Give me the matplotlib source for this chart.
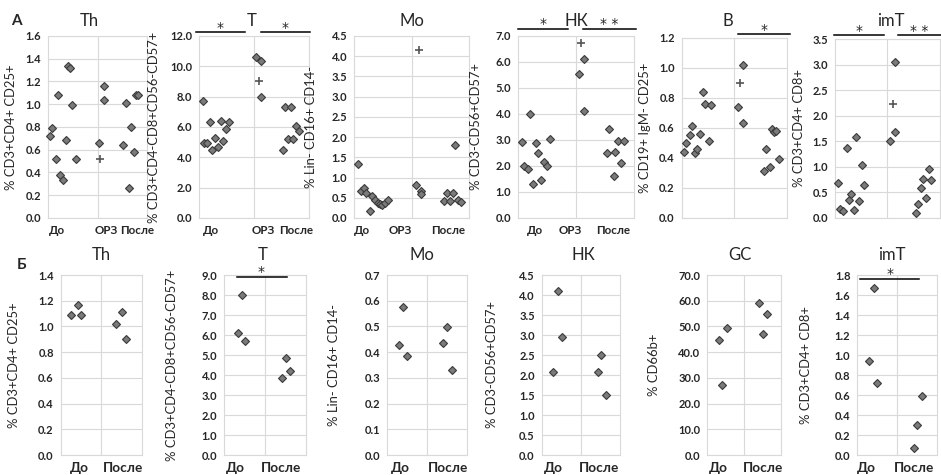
import matplotlib
matplotlib.use('Agg')
import matplotlib.pyplot as plt
import matplotlib.transforms as mtransforms
import numpy as np

plt.rcParams['font.family'] = ['Lato', 'Noto Sans', 'DejaVu Sans']

W, H = 941, 475

# ---------------- DATA: row A (До / ОРЗ / После) ----------------
groups_A = ['До', 'ОРЗ', 'После']
groups_B = ['До', 'После']

thA_do_x = [0.05, 0.09, 0.16, 0.20, 0.25, 0.30, 0.36, 0.40, 0.44, 0.49, 0.56]
thA_do_y = [0.72, 0.79, 0.52, 1.08, 0.38, 0.33, 0.69, 1.34, 1.32, 0.99, 0.52]
thA_orz_x = [1.03, 1.14, 1.14]
thA_orz_y = [0.66, 1.16, 1.04]
thA_mean = [1.06, 0.52]
thA_po_x = [1.52, 1.58, 1.63, 1.68, 1.73, 1.77, 1.82]
thA_po_y = [0.64, 1.01, 0.26, 0.80, 0.58, 1.08, 1.08]

tA_do_x = [0.06, 0.09, 0.145, 0.19, 0.24, 0.29, 0.35, 0.39, 0.44, 0.49, 0.55]
tA_do_y = [7.71, 4.96, 4.96, 6.30, 4.47, 5.25, 4.65, 6.41, 5.09, 5.85, 6.30]
tA_orz_x = [1.03, 1.13, 1.12]
tA_orz_y = [10.61, 10.32, 7.98]
tA_mean = [1.09, 9.05]
tA_po_x = [1.52, 1.56, 1.61, 1.67, 1.71, 1.76, 1.81]
tA_po_y = [4.47, 7.31, 5.18, 7.31, 5.18, 6.08, 5.74]

moA_do_x = [0.07, 0.12, 0.17, 0.21, 0.27, 0.31, 0.36, 0.41, 0.45, 0.49, 0.53, 0.58]
moA_do_y = [1.33, 0.67, 0.74, 0.63, 0.18, 0.55, 0.45, 0.38, 0.35, 0.33, 0.36, 0.45]
moA_orz_x = [1.08, 1.16, 1.17]
moA_orz_y = [0.82, 0.67, 0.59]
moA_mean = [1.12, 4.15]
moA_po_x = [1.56, 1.61, 1.66, 1.72, 1.76, 1.81, 1.86]
moA_po_y = [0.41, 0.62, 0.41, 0.62, 1.80, 0.45, 0.39]

nkA_do_x = [0.06, 0.10, 0.16, 0.20, 0.25, 0.30, 0.35, 0.40, 0.45, 0.50, 0.55]
nkA_do_y = [2.92, 1.99, 1.89, 3.99, 1.31, 2.90, 2.51, 1.48, 2.17, 1.99, 3.05]
nkA_orz_x = [1.05, 1.14, 1.14]
nkA_orz_y = [5.53, 6.10, 4.12]
nkA_mean = [1.09, 6.73]
nkA_po_x = [1.54, 1.58, 1.65, 1.68, 1.73, 1.78, 1.83]
nkA_po_y = [2.49, 3.44, 1.60, 2.54, 2.96, 2.10, 2.96]

bA_do_x = [0.05, 0.09, 0.15, 0.20, 0.25, 0.30, 0.35, 0.40, 0.45, 0.51, 0.56]
bA_do_y = [0.44, 0.50, 0.55, 0.61, 0.43, 0.46, 0.56, 0.84, 0.76, 0.51, 0.75]
bA_orz_x = [1.06, 1.16, 1.16]
bA_orz_y = [0.74, 1.02, 0.63]
bA_mean = [1.11, 0.90]
bA_po_x = [1.56, 1.61, 1.68, 1.71, 1.75, 1.80, 1.85]
bA_po_y = [0.31, 0.46, 0.34, 0.59, 0.57, 0.58, 0.39]

imA_do_x = [0.06, 0.10, 0.16, 0.22, 0.26, 0.31, 0.36, 0.41, 0.46, 0.52, 0.56]
imA_do_y = [0.68, 0.18, 0.14, 1.36, 0.36, 0.47, 0.16, 1.59, 0.33, 1.03, 0.64]
imA_orz_x = [1.05, 1.15, 1.15]
imA_orz_y = [1.51, 3.06, 1.68]
imA_mean = [1.10, 2.23]
imA_po_x = [1.55, 1.58, 1.64, 1.69, 1.74, 1.79, 1.84]
imA_po_y = [0.10, 0.28, 0.59, 0.77, 0.40, 0.96, 0.74]

# ---------------- DATA: row Б (До / После) ----------------
thB_do_x = [0.25, 0.42, 0.50]
thB_do_y = [1.09, 1.17, 1.09]
thB_po_x = [1.37, 1.51, 1.60]
thB_po_y = [1.02, 1.11, 0.90]

tB_do_x = [0.34, 0.44, 0.52]
tB_do_y = [6.12, 8.00, 5.72]
tB_po_x = [1.41, 1.52, 1.61]
tB_po_y = [3.83, 4.83, 4.22]

moB_do_x = [0.28, 0.40, 0.50]
moB_do_y = [0.428, 0.574, 0.385]
moB_po_x = [1.40, 1.50, 1.61]
moB_po_y = [0.437, 0.499, 0.330]

nkB_do_x = [0.28, 0.41, 0.51]
nkB_do_y = [2.07, 4.11, 2.94]
nkB_po_x = [1.42, 1.51, 1.63]
nkB_po_y = [2.07, 2.50, 1.50]

gcB_do_x = [0.31, 0.41, 0.52]
gcB_do_y = [44.7, 27.2, 49.5]
gcB_po_x = [1.41, 1.51, 1.60]
gcB_po_y = [59.2, 46.9, 54.8]

imB_do_x = [0.29, 0.41, 0.50]
imB_do_y = [0.94, 1.67, 0.72]
imB_po_x = [1.42, 1.50, 1.61]
imB_po_y = [0.07, 0.30, 0.59]

# titles, axis labels, ticks
titles_A = ['Th', 'T', 'Mo', 'НК', 'B', 'imT']
titles_B = ['Th', 'T', 'Mo', 'НК', 'GC', 'imT']
ylabels_A = ['% CD3+CD4+ CD25+', '% CD3+CD4-CD8+CD56-CD57+', '% Lin- CD16+ CD14-',
             '% CD3-CD56+CD57+', '% CD19+ IgM- CD25+', '% CD3+CD4+ CD8+']
ylabels_B = ['% CD3+CD4+ CD25+', '% CD3+CD4-CD8+CD56-CD57+', '% Lin- CD16+ CD14-',
             '% CD3-CD56+CD57+', '% CD66b+', '% CD3+CD4+ CD8+']
ymax_A = [1.6, 12.0, 4.5, 7.0, 1.2, 3.5]
ystep_A = [0.2, 2.0, 0.5, 1.0, 0.2, 0.5]
ymax_B = [1.4, 9.0, 0.7, 4.5, 70.0, 1.8]
ystep_B = [0.2, 1.0, 0.1, 0.5, 10.0, 0.2]

# significance bars: (x0, x1, label) in data-x units
sig_A = [[], [(-0.06, 0.83, '*'), (1.12, 2.02, '*')], [],
         [(0.0, 0.86, '*'), (1.12, 2.04, '* *')], [(1.07, 2.06, '*')],
         [(-0.02, 0.94, '*'), (1.2, 2.03, '* *')]]
sig_B = [[], [(0.30, 1.53, '*')], [], [], [], [(0.07, 1.55, '*')]]

# ---------------- LAYOUT (pixels) ----------------
geomA = [(48, 147, 36, 218), (199.3, 309, 36, 218), (354.3, 469, 36, 218),
         (518.3, 633.7, 36, 218), (681.7, 787, 38, 218), (835, 939.7, 39, 218)]
geomB = [(60.7, 141.7, 275, 455), (224.3, 305.7, 275, 455), (387.3, 467.3, 275, 455),
         (541.7, 620.3, 275, 455), (707.3, 781.3, 275, 455), (857.3, 937.3, 275, 455)]
ylab_px_A = [17, 160, 317, 482, 651, 805]
ylab_px_B = [20, 177.7, 340, 498, 660, 811.7]
title_px_A = [89.3, 251.7, 411.7, 576.7, 728, 891]
title_px_B = [101.7, 262.3, 421.7, 583.3, 740, 892.3]
title_y_A = 20.7
title_y_B = 255
xlab_pos_A = [[0.18, 1.17, 1.80], [0.22, 1.16, 1.76], [0.13, 0.80, 1.64],
              [0.29, 0.90, 1.64], None, None]
xlab_pos_B = [[0.45, 1.55], [0.27, 1.39], [0.32, 1.51], [0.30, 1.47], [0.31, 1.50], [0.23, 1.42]]
xlab_size_A = 8.4
xlab_size_B = 9.8
sig_y_A = [None, 1.02, None, 1.04, 1.02, 1.02]
sig_y_B = [None, 0.99, None, None, None, 0.98]

series_A = [
    [(thA_do_x, thA_do_y), (thA_orz_x, thA_orz_y), (thA_po_x, thA_po_y), thA_mean],
    [(tA_do_x, tA_do_y), (tA_orz_x, tA_orz_y), (tA_po_x, tA_po_y), tA_mean],
    [(moA_do_x, moA_do_y), (moA_orz_x, moA_orz_y), (moA_po_x, moA_po_y), moA_mean],
    [(nkA_do_x, nkA_do_y), (nkA_orz_x, nkA_orz_y), (nkA_po_x, nkA_po_y), nkA_mean],
    [(bA_do_x, bA_do_y), (bA_orz_x, bA_orz_y), (bA_po_x, bA_po_y), bA_mean],
    [(imA_do_x, imA_do_y), (imA_orz_x, imA_orz_y), (imA_po_x, imA_po_y), imA_mean],
]
series_B = [
    [(thB_do_x, thB_do_y), (thB_po_x, thB_po_y), None],
    [(tB_do_x, tB_do_y), (tB_po_x, tB_po_y), None],
    [(moB_do_x, moB_do_y), (moB_po_x, moB_po_y), None],
    [(nkB_do_x, nkB_do_y), (nkB_po_x, nkB_po_y), None],
    [(gcB_do_x, gcB_do_y), (gcB_po_x, gcB_po_y), None],
    [(imB_do_x, imB_do_y), (imB_po_x, imB_po_y), None],
]

GRID = '#d9d9d9'
FACE = '#7a7a7a'
EDGE = '#3a3a3a'
TXT = '#262626'

fig = plt.figure(figsize=(W / 100, H / 100), dpi=100)


def draw_panel(geom, ymax, ystep, ylabel, ylab_px, title, title_px, title_y, series,
               xlab_pos, xlabels, xlab_size, sigs, sig_y):
    l, r, t, b = geom
    ax = fig.add_axes([l / W, 1 - b / H, (r - l) / W, (b - t) / H])
    ax.set_xlim(0, 2)
    ax.set_ylim(0, ymax)
    yt = np.arange(0, ymax + ystep / 2, ystep)
    ax.set_yticks(yt)
    ax.set_yticklabels([f'{v:.1f}' for v in yt], fontsize=8, fontweight='bold',
                       color=TXT)
    ax.set_xticks([1])
    ax.set_xticklabels([])
    ax.tick_params(length=0, pad=5)
    ax.grid(True, color=GRID, lw=0.8)
    ax.set_axisbelow(True)
    for s in ax.spines.values():
        s.set_color(GRID)
        s.set_linewidth(0.8)
    pts = series[:-1]
    for gx, gy in pts:
        ax.plot(gx, gy, ls='none', marker='D', ms=4.5, mfc=FACE, mec=EDGE,
                mew=0.8, zorder=3, clip_on=False)
    if series[-1] is not None:
        mx, my = series[-1]
        ax.plot([mx], [my], ls='none', marker='+', ms=5.5, mew=1.2,
                color='#555555', zorder=3)
    ax.set_ylabel(ylabel, fontsize=9.4, color=TXT)
    ax.yaxis.set_label_coords((ylab_px - l) / (r - l), 0.5)
    fig.text(title_px / W, 1 - title_y / H, title, fontsize=12, ha='center',
             va='center', color=TXT)
    if xlab_pos is not None:
        tr = mtransforms.blended_transform_factory(ax.transData, ax.transAxes)
        for xp, lab in zip(xlab_pos, xlabels):
            ax.text(xp, -12.5 / (b - t), lab, transform=tr, ha='center', va='center',
                    fontsize=xlab_size, fontweight='bold', color=TXT)
    if sigs:
        tr = mtransforms.blended_transform_factory(ax.transData, ax.transAxes)
        for x0, x1, lab in sigs:
            ax.plot([x0, x1], [sig_y, sig_y], transform=tr, color='black', lw=1.1,
                    clip_on=False, zorder=4)
            ax.annotate(lab, xy=((x0 + x1) / 2, sig_y), xycoords=tr,
                        xytext=(0, 0.3), textcoords='offset points', ha='center',
                        va='baseline', fontsize=10, color=TXT,
                        family=['DejaVu Sans'])
    return ax


for i in range(6):
    draw_panel(geomA[i], ymax_A[i], ystep_A[i], ylabels_A[i], ylab_px_A[i],
               titles_A[i], title_px_A[i], title_y_A, series_A[i], xlab_pos_A[i],
               groups_A, xlab_size_A, sig_A[i], sig_y_A[i])
    draw_panel(geomB[i], ymax_B[i], ystep_B[i], ylabels_B[i], ylab_px_B[i],
               titles_B[i], title_px_B[i], title_y_B, series_B[i], xlab_pos_B[i],
               groups_B, xlab_size_B, sig_B[i], sig_y_B[i])

fig.text(16 / W, 1 - 21 / H, 'А', fontsize=11, fontweight='bold', ha='center',
         va='center', color=TXT)
fig.text(21.7 / W, 1 - 265 / H, 'Б', fontsize=11, fontweight='bold', ha='center',
         va='center', color=TXT)

fig.savefig('out.png', dpi=100, facecolor='white')
